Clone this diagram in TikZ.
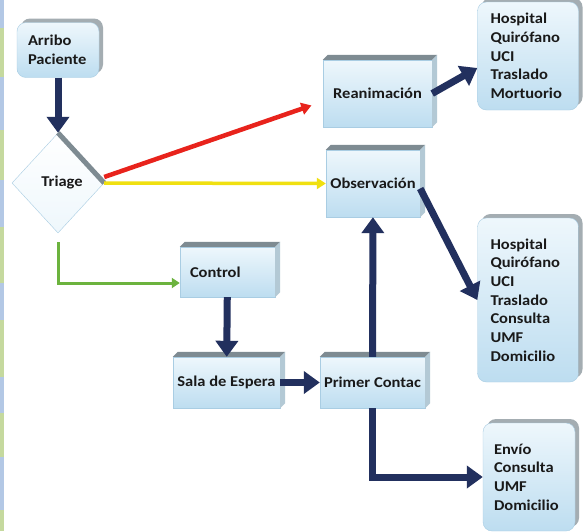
\documentclass[tikz,border=0pt]{standalone}
\usepackage{fontspec}
\newfontfamily\boxfont{Carlito}[FakeStretch=1.1]
\usetikzlibrary{shapes.geometric,arrows.meta,shadows,calc}

\definecolor{navy}{HTML}{22305E}
\definecolor{boxtop}{HTML}{EEF7FC}
\definecolor{boxbot}{HTML}{BDDDF0}
\definecolor{boxedge}{HTML}{A9CDE3}
\definecolor{topface}{HTML}{7E8B92}
\definecolor{sideface}{HTML}{B3C9D5}
\definecolor{redline}{HTML}{E8231C}
\definecolor{yellowline}{HTML}{F0E010}
\definecolor{greenline}{HTML}{6CB33E}
\definecolor{stripblue}{HTML}{B3C8E5}
\definecolor{stripgreen}{HTML}{C5D99E}

\begin{document}
\begin{tikzpicture}[x=1pt,y=-1pt,
  every node/.style={font=\boxfont\bfseries\fontsize{15}{18.7}\selectfont, text=black!90},
  cube/.style={rectangle, top color=boxtop, bottom color=boxbot, draw=boxedge, inner sep=2pt},
  outbox/.style={rectangle, rounded corners=9pt, top color=boxtop, bottom color=boxbot, draw=boxedge, align=left, inner xsep=13pt, drop shadow={shadow xshift=4pt, shadow yshift=4pt, fill=topface, opacity=0.7}},
  flow/.style={navy, line width=7pt, -{Triangle[length=16pt,width=22pt]}},
]
\fill[white] (0,0) rectangle (584,531);
\useasboundingbox (0,0) rectangle (584,531);

% strip on the left side
\foreach \a/\b/\c in {0/28/stripblue, 28/77/stripgreen, 77/130/stripblue, 130/180/stripgreen, 180/227/stripblue, 227/283/stripgreen, 283/320/stripblue, 320/377/stripgreen, 377/413/stripblue, 413/457/stripgreen, 457/510/stripblue, 510/531/stripgreen}
  \fill[\c] (0,\a) rectangle (4,\b);

\node (arribo) [outbox, text width=60pt, inner xsep=11pt, minimum height=55pt] at (58,50) {Arribo\\Paciente};

\node (triage) [diamond, top color=white, bottom color=boxtop, draw=boxedge, minimum width=92pt, minimum height=100pt, inner sep=0pt] at (58,183) {\hspace*{8pt}Triage};
\draw[topface, line width=5pt] (triage.north) -- (triage.east);

\node (reanim) [cube, minimum width=109pt, minimum height=67pt] at (377.5,93.5) {Reanimación};

\node (observ) [cube, minimum width=94pt, minimum height=67pt] at (373,183.5) {Observación};

\node (control) [cube, minimum width=95pt, minimum height=50pt, text width=75pt, align=left, inner xsep=10pt] at (227.5,272) {Control};

\node (sala) [cube, minimum width=107pt, minimum height=51pt] at (226.5,382.5) {Sala de Espera};

\node (primer) [cube, minimum width=105pt, minimum height=51pt] at (372.5,382.5) {Primer Contac};

\node (alta1) [outbox, text width=75pt, minimum height=108pt] at (528,56) {Hospital\\Quirófano\\UCI\\Traslado\\Mortuorio};

\node (alta2) [outbox, text width=75pt, minimum height=164pt] at (528,300) {Hospital\\Quirófano\\UCI\\Traslado\\Consulta\\UMF\\Domicilio};

\node (alta3) [outbox, text width=70pt, inner xsep=11pt, minimum height=108pt] at (529,477) {Envío\\Consulta\\UMF\\Domicilio};

% top and right faces of the boxes
\foreach \n in {reanim,observ,control,sala,primer}{
  \fill[topface] (\n.north west) -- ++(5,-5) -- ($(\n.north east)+(5,-5)$) -- (\n.north east) -- cycle;
  \fill[sideface] (\n.north east) -- ++(5,-5) -- ($(\n.south east)+(5,-5)$) -- (\n.south east) -- cycle;
}

\draw[flow] (arribo) -- (triage);
\draw[redline, line width=4.5pt, -{Triangle[length=10pt,width=12pt]}, shorten >=12pt] ([yshift=6pt]triage.east) -- ([yshift=-8pt]reanim.west);
\draw[yellowline, line width=3.5pt, -{Triangle[length=9pt,width=11pt]}] (triage.east) -- (observ.west);
\draw[greenline, line width=3pt, -{Triangle[length=8pt,width=10pt]}, shorten <=9pt] (triage.south) |- ([yshift=-11pt]control.west);
\draw[flow] (control) -- (sala);
\draw[flow] (sala) -- (primer);
\draw[flow] (primer) -- (observ);
\draw[flow] (primer.south) |- (alta3.west);
\draw[flow] ([yshift=-5pt]observ.east) -- (alta2.west);
\draw[flow] (reanim.east) -- ([yshift=-12pt]alta1.west);

\end{tikzpicture}
\end{document}
